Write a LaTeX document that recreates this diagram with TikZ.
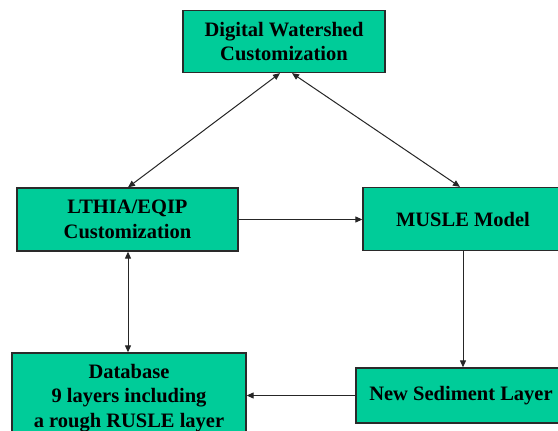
\documentclass[tikz,border=0pt]{standalone}
\usepackage{fontspec}
\setmainfont{Liberation Serif}
\usetikzlibrary{arrows.meta}
\definecolor{boxgreen}{HTML}{00CC99}
\definecolor{boxline}{HTML}{2A2A2A}
\begin{document}
\begin{tikzpicture}[x=1pt,y=-1pt,
  box/.style={draw=boxline, fill=boxgreen, line width=1.3pt, rectangle, align=center,
    font=\fontsize{20.5}{24.5}\selectfont\bfseries, inner sep=0pt},
  conn/.style={line width=1pt, draw=black!85},
  tip/.style={-{Triangle[length=7pt,width=6pt]}},
  dtip/.style={{Triangle[length=7pt,width=6pt]}-{Triangle[length=7pt,width=6pt]}}]
\useasboundingbox (0,0) rectangle (558,431);
\fill[white] (0,0) rectangle (558,431);
\node[box, minimum width=202pt, minimum height=62pt] (top) at (284,41.5) {Digital Watershed\\Customization};
\node[box, minimum width=221pt, minimum height=63pt] (lthia) at (127.5,219.5) {LTHIA/EQIP\\Customization};
\node[box, minimum width=200pt, minimum height=63pt] (musle) at (463,219) {MUSLE Model};
\node[box, minimum width=234pt, minimum height=90pt] (db) at (129,398) {Database\\9 layers including\\a rough RUSLE layer};
\node[box, minimum width=210pt, minimum height=55pt] (new) at (461,395.5) {New Sediment Layer};
\draw[conn, dtip] ([xshift=-4pt]top.south) -- ([xshift=0.5pt]lthia.north);
\draw[conn, dtip] ([xshift=8pt]top.south) -- ([xshift=-3pt]musle.north);
\draw[conn, tip] (lthia.east) -- (lthia.east -| musle.west);
\draw[conn, dtip] ([xshift=0.5pt]lthia.south) -- ([xshift=0.5pt]lthia.south |- db.north);
\draw[conn, tip] (musle.south) -- (musle.south |- new.north);
\draw[conn, tip] (new.west) -- (new.west -| db.east);
\end{tikzpicture}
\end{document}
